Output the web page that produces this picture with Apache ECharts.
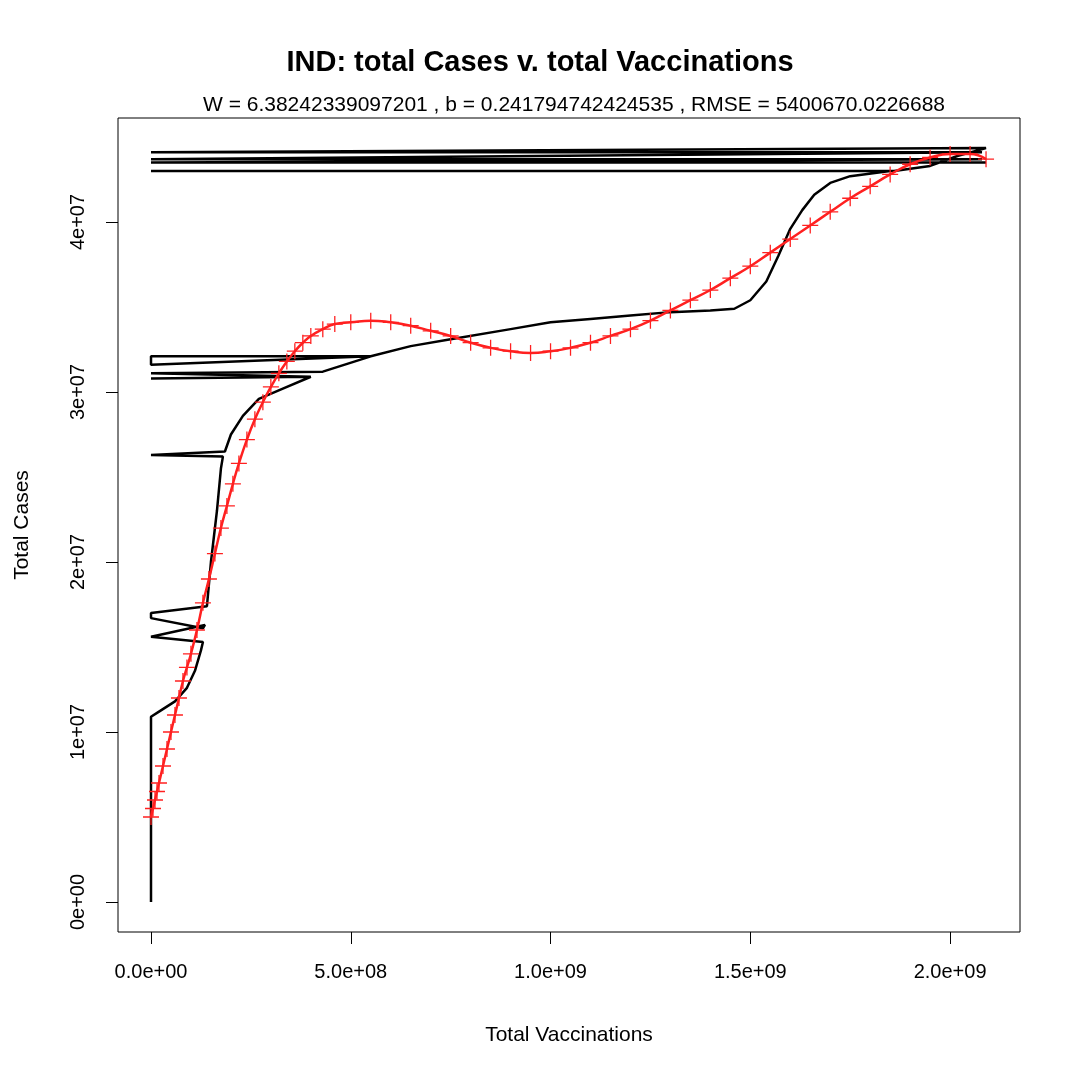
<!DOCTYPE html>
<html lang="en">
<head>
<meta charset="UTF-8">
<title>IND: total Cases v. total Vaccinations</title>
<script src="https://cdn.jsdelivr.net/npm/echarts@6/dist/echarts.min.js"></script>
<style>html,body{margin:0;background:#fff}#main{width:1080px;height:1080px}</style>
</head>
<body>
<div id="main"></div>
<script>
// x in 1e8 vaccinations, y in 1e6 cases
let actualPath = [
    [0,0],[0,10.9],[0.2,11.2],[0.6,11.8],[0.9,12.6],[1.1,13.6],[1.25,14.8],[1.3,15.3],
    [0,15.6],[1.35,16.3],[1.3,16.1],[0,16.7],[0,17.0],[1.4,17.4],
    [1.5,20],[1.65,23],[1.75,25.5],[1.8,26.2],[0,26.3],[1.85,26.5],
    [2.0,27.5],[2.3,28.6],[2.7,29.6],[3.3,30.2],[4.0,30.9],[0,30.8],[4.0,30.9],[0,31.1],
    [4.3,31.2],[5.5,32.1],[0,32.1],[0,31.6],[5.5,32.1],
    [6.5,32.7],[7.5,33.1],[9,33.7],[10,34.1],[11,34.3],[12,34.5],[13,34.7],[14,34.8],
    [14.6,34.9],[15,35.4],[15.4,36.5],[15.7,38],[16.0,39.6],[16.3,40.7],[16.6,41.6],[17,42.3],
    [17.5,42.7],[18.5,43.0],[0,43.0],[18.6,43.0],[19.5,43.3],[20.2,43.9],[20.9,44.35],
    [0,44.1],[20.8,44.1],[0,43.7],[20.8,43.7],[0,43.5],[20.9,43.5]
];
let fittedPoints = [
    [0,5],[0.05,5.5],[0.1,6],[0.15,6.5],[0.2,7],[0.3,8],[0.4,9],[0.5,10],[0.6,11],[0.7,12],
    [0.8,13],[0.9,13.8],[1.0,14.6],[1.15,16],[1.3,17.6],[1.45,19],[1.6,20.5],[1.75,22],
    [1.9,23.3],[2.05,24.6],[2.2,25.8],[2.4,27.2],[2.6,28.4],[2.8,29.4],[3.0,30.3],[3.2,31.1],
    [3.4,31.8],[3.6,32.4],[3.8,32.9],[4.0,33.3],[4.3,33.7],[4.6,34.0],[5.0,34.1],[5.5,34.2],
    [6.0,34.1],[6.5,33.9],[7.0,33.6],[7.5,33.3],[8.0,32.9],[8.5,32.6],[9.0,32.4],[9.5,32.3],
    [10.0,32.4],[10.5,32.6],[11.0,32.9],[11.5,33.3],[12.0,33.7],[12.5,34.2],[13.0,34.8],
    [13.5,35.4],[14.0,36.0],[14.5,36.7],[15.0,37.4],[15.5,38.2],[16.0,39.0],[16.5,39.8],
    [17.0,40.6],[17.5,41.4],[18.0,42.1],[18.5,42.8],[19.0,43.4],[19.5,43.8],[20.0,44.0],
    [20.5,44.0],[20.9,43.7]
];
let xTicks = [0, 5, 10, 15, 20];
let xTickLabels = ['0.0e+00', '5.0e+08', '1.0e+09', '1.5e+09', '2.0e+09'];
let yTicks = [0, 10, 20, 30, 40];
let yTickLabels = ['0e+00', '1e+07', '2e+07', '3e+07', '4e+07'];

let font = 'Liberation Sans, Arial, sans-serif';
let myChart = echarts.init(document.getElementById('main'));
let option = {
    animation: false,
    title: [
        {text: 'IND: total Cases v. total Vaccinations', left: 'center', top: 43,
         textStyle: {fontFamily: font, fontSize: 29, fontWeight: 'bold', color: '#000'}},
        {text: 'W = 6.38242339097201 , b = 0.241794742424535 , RMSE = 5400670.0226688', left: 569, textAlign: 'center', top: 90,
         textStyle: {fontFamily: font, fontSize: 21, fontWeight: 'normal', color: '#000'}}
    ],
    grid: {left: 118, right: 60, top: 118, bottom: 148, show: true, borderColor: '#000', borderWidth: 1},
    xAxis: {
        type: 'value', min: -0.826, max: 21.75,
        name: 'Total Vaccinations', nameLocation: 'middle', nameGap: 93,
        nameTextStyle: {fontFamily: font, fontSize: 21, color: '#000'},
        splitLine: {show: false},
        axisLine: {show: false, onZero: false},
        axisTick: {show: true, length: 12, customValues: xTicks, lineStyle: {color: '#000'}},
        axisLabel: {customValues: xTicks, margin: 30, fontFamily: font, fontSize: 20, color: '#000',
            formatter: v => xTickLabels[xTicks.indexOf(Math.round(v))]}
    },
    yAxis: {
        type: 'value', min: -1.765, max: 46.12,
        name: 'Total Cases', nameLocation: 'middle', nameGap: 85, nameRotate: 90,
        nameTextStyle: {fontFamily: font, fontSize: 21, color: '#000'},
        splitLine: {show: false},
        axisLine: {show: false, onZero: false},
        axisTick: {show: true, length: 12, customValues: yTicks, lineStyle: {color: '#000'}},
        axisLabel: {customValues: yTicks, rotate: 90, margin: 30, fontFamily: font, fontSize: 20, color: '#000',
            verticalAlign: 'bottom', align: 'center',
            formatter: v => yTickLabels[yTicks.indexOf(Math.round(v))]}
    },
    series: [
        {type: 'line', data: actualPath, showSymbol: false, lineStyle: {color: '#000', width: 2.5}},
        {type: 'line', data: fittedPoints, smooth: true, symbol: 'path://M0,4.6H10V5.4H0ZM4.6,0H5.4V10H4.6Z',
         symbolSize: 16, showAllSymbol: true,
         itemStyle: {color: '#ff2020'}, lineStyle: {color: '#ff2020', width: 2.5}}
    ]
};
myChart.setOption(option);
</script>
</body>
</html>
